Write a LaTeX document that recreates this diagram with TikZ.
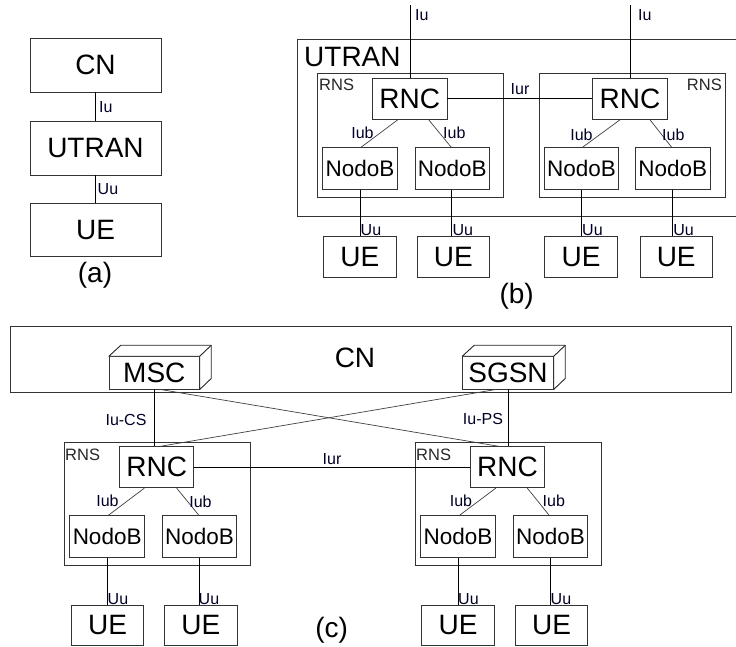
\documentclass[tikz,border=0pt]{standalone}
\usepackage{fontspec}
\setmainfont{Liberation Sans}
\usetikzlibrary{calc}
\newcommand\fbig{\fontsize{28}{30}\selectfont}
\newcommand\fmid{\fontsize{22.5}{24}\selectfont}
\newcommand\fsmall{\fontsize{16}{17}\selectfont}
\newcommand\frns{\fontsize{16.5}{18}\selectfont}
\begin{document}
\begin{tikzpicture}[x=1pt,y=-1pt,
  box/.style={draw=black!80, line width=0.9pt, fill=white, inner sep=0pt, font=\fbig},
  nodeb/.style={box, font=\fmid, minimum width=74.5, minimum height=41.5},
  rnc/.style={box, minimum width=74.5, minimum height=41.3},
  ue/.style={box, minimum width=72.5, minimum height=40.5},
  frame/.style={draw=black!80, line width=0.9pt, inner sep=0pt},
  link/.style={draw=black, line width=0.8pt},
  iub/.style={draw=black!75, line width=0.7pt},
  lbl/.style={inner sep=0pt, font=\fsmall, text=black!85!blue},
  rnslbl/.style={inner sep=0pt, font=\frns, text=black!85},
  caption/.style={inner sep=0pt, font=\fbig},
  cube/.style={draw=black!85, line width=0.9pt, fill=white, line join=round}
]
\useasboundingbox (0,0) rectangle (736,646);

% ---------- (a) layered view ----------
\node[box, minimum width=131, minimum height=54] (cnA) at (95.5,65) {CN};
\node[box, minimum width=131, minimum height=54] (utA) at (95.5,148) {UTRAN};
\node[box, minimum width=131, minimum height=53] (ueA) at (95.5,229.5) {UE};
\draw[link] (cnA.south) -- (utA.north);
\draw[link] (utA.south) -- (ueA.north);
\node[lbl, anchor=west] (iuA) at (99,107) {Iu};
\node[lbl, anchor=west] (uuA) at (97.5,189) {Uu};
\node[caption] (capA) at (95,275) {(a)};

% ---------- (b) UTRAN with two RNS ----------
\draw[frame] (736,39) -- (297,39) -- (297,216.7) -- (736,216.7);
\node[inner sep=0pt, font=\fbig, anchor=west] (utB) at (304,57.5) {UTRAN};
\node[frame, minimum width=186, minimum height=124] (rnsBL) at (410.3,135.7) {};
\node[frame, minimum width=186, minimum height=124] (rnsBR) at (632,135.7) {};
\node[rnslbl, anchor=west] (rnsBLt) at (319,85) {RNS};
\node[rnslbl, anchor=east] (rnsBRt) at (722,85) {RNS};

\node[rnc] (rncBL) at (409.7,98.7) {RNC};
\node[rnc] (rncBR) at (630,98.7) {RNC};
\coordinate (iuBLtop) at (410,5);
\coordinate (iuBRtop) at (630,5);
\draw[link] (iuBLtop) -- (iuBLtop |- rncBL.north);
\draw[link] (iuBRtop) -- (iuBRtop |- rncBR.north);
\node[lbl, anchor=west] (iuBL) at (415,15) {Iu};
\node[lbl, anchor=west] (iuBR) at (638,15) {Iu};
\draw[link] (rncBL.east) -- (rncBR.west);
\node[lbl] (iurB) at (520,89) {Iur};

\node[nodeb] (nbB1) at (360,168.5) {NodoB};
\node[nodeb] (nbB2) at (452.3,168.5) {NodoB};
\node[nodeb] (nbB3) at (581.5,168.5) {NodoB};
\node[nodeb] (nbB4) at (672.7,168.5) {NodoB};
\draw[iub] ($(rncBL.south)+(-12,0)$) -- ($(nbB1.north)+(1,0)$);
\draw[iub] ($(rncBL.south)+(19,0)$) -- ($(nbB2.north)+(-1,0)$);
\draw[iub] ($(rncBR.south)+(-10,0)$) -- ($(nbB3.north)+(1,0)$);
\draw[iub] ($(rncBR.south)+(20,0)$) -- ($(nbB4.north)+(-1,0)$);
\node[lbl] (iubB1) at (362.5,132.7) {Iub};
\node[lbl] (iubB2) at (454.3,132.7) {Iub};
\node[lbl] (iubB3) at (581.5,135) {Iub};
\node[lbl] (iubB4) at (673.3,135) {Iub};

\node[ue] (ueB1) at (359.9,257) {UE};
\node[ue] (ueB2) at (453.3,257) {UE};
\node[ue] (ueB3) at (581,257) {UE};
\node[ue] (ueB4) at (676.2,257) {UE};
\draw[link] (nbB1.south) -- (nbB1.south |- ueB1.north);
\draw[link] ($(nbB2.south)+(-0.6,0)$) -- ($(nbB2.south |- ueB2.north)+(-0.6,0)$);
\draw[link] (nbB3.south) -- (nbB3.south |- ueB3.north);
\draw[link] (nbB4.south) -- (nbB4.south |- ueB4.north);
\node[lbl, anchor=west] (uuB1) at (360.5,230) {Uu};
\node[lbl, anchor=west] (uuB2) at (452.3,230) {Uu};
\node[lbl, anchor=west] (uuB3) at (582,230) {Uu};
\node[lbl, anchor=west] (uuB4) at (673.2,230) {Uu};
\node[caption] (capB) at (516.7,296) {(b)};

% ---------- (c) CN with MSC and SGSN ----------
\node[frame, minimum width=721.7, minimum height=65.6] (cnC) at (370.85,359.5) {};
\node[inner sep=0pt, font=\fbig] (cnCt) at (355,358.3) {CN};

\node[box, minimum width=90, minimum height=32.3] (msc) at (154.3,372.85) {MSC};
\node[box, minimum width=90.6, minimum height=32.3] (sgsn) at (508,372.85) {SGSN};
% top and side faces of the two cubes
\foreach \c in {msc,sgsn}{
  \draw[cube] (\c.north west) -- ++(12,-11) -- ($(\c.north east)+(11.5,-11)$)
        -- ($(\c.south east)+(11.5,-11)$) -- (\c.south east) -- (\c.north east) -- cycle;
  \draw[cube] (\c.north east) -- ++(11.5,-11);
}

\node[frame, minimum width=185.7, minimum height=123] (rnsCL) at (157.15,504.2) {};
\node[frame, minimum width=186, minimum height=123] (rnsCR) at (508,504.2) {};
\node[rnslbl, anchor=west] (rnsCLt) at (65,455) {RNS};
\node[rnslbl, anchor=west] (rnsCRt) at (416,455) {RNS};

\node[rnc, minimum height=41] (rncCL) at (156.65,467.2) {RNC};
\node[rnc, minimum height=41] (rncCR) at (507.5,467.2) {RNC};

\draw[link] (msc.south) -- (msc.south |- rncCL.north);
\draw[link] (sgsn.south) -- (sgsn.south |- rncCR.north);
\draw[iub] ($(msc.south)+(6,0)$) -- ($(rncCR.north)+(-9,0)$);
\draw[iub] ($(rncCL.north)+(4,0)$) -- ($(sgsn.south)+(-12,0)$);
\node[lbl] (iucs) at (126,420) {Iu-CS};
\node[lbl] (iups) at (483,419.3) {Iu-PS};

\draw[link] (rncCL.east) -- (rncCR.west);
\node[lbl] (iurC) at (332,459) {Iur};

\node[nodeb] (nbC1) at (107.15,536.65) {NodoB};
\node[nodeb] (nbC2) at (199.5,536.65) {NodoB};
\node[nodeb] (nbC3) at (458,536.65) {NodoB};
\node[nodeb] (nbC4) at (550.5,536.65) {NodoB};
\draw[iub] ($(rncCL.south)+(-12.3,0)$) -- ($(nbC1.north)+(1,0)$);
\draw[iub] ($(rncCL.south)+(20,0)$) -- ($(nbC2.north)+(-0.5,0)$);
\draw[iub] ($(rncCR.south)+(-11.8,0)$) -- ($(nbC3.north)+(1.3,0)$);
\draw[iub] ($(rncCR.south)+(19.8,0)$) -- ($(nbC4.north)+(-1.2,0)$);
\node[lbl] (iubC1) at (107.5,501) {Iub};
\node[lbl] (iubC2) at (200.5,501.7) {Iub};
\node[lbl] (iubC3) at (461,501) {Iub};
\node[lbl] (iubC4) at (553.8,501) {Iub};

\node[ue, minimum height=40] (ueC1) at (107.65,625) {UE};
\node[ue, minimum height=40] (ueC2) at (200.85,625) {UE};
\node[ue, minimum height=40] (ueC3) at (458,625) {UE};
\node[ue, minimum height=40] (ueC4) at (551.5,625) {UE};
\draw[link] (nbC1.south) -- (nbC1.south |- ueC1.north);
\draw[link] (nbC2.south) -- (nbC2.south |- ueC2.north);
\draw[link] (nbC3.south) -- (nbC3.south |- ueC3.north);
\draw[link] (nbC4.south) -- (nbC4.south |- ueC4.north);
\node[lbl, anchor=west] (uuC1) at (107.5,599.3) {Uu};
\node[lbl, anchor=west] (uuC2) at (198.5,599.3) {Uu};
\node[lbl, anchor=west] (uuC3) at (458,599.3) {Uu};
\node[lbl, anchor=west] (uuC4) at (550.5,599.3) {Uu};
\node[caption] (capC) at (331.7,630) {(c)};
\end{tikzpicture}
\end{document}
